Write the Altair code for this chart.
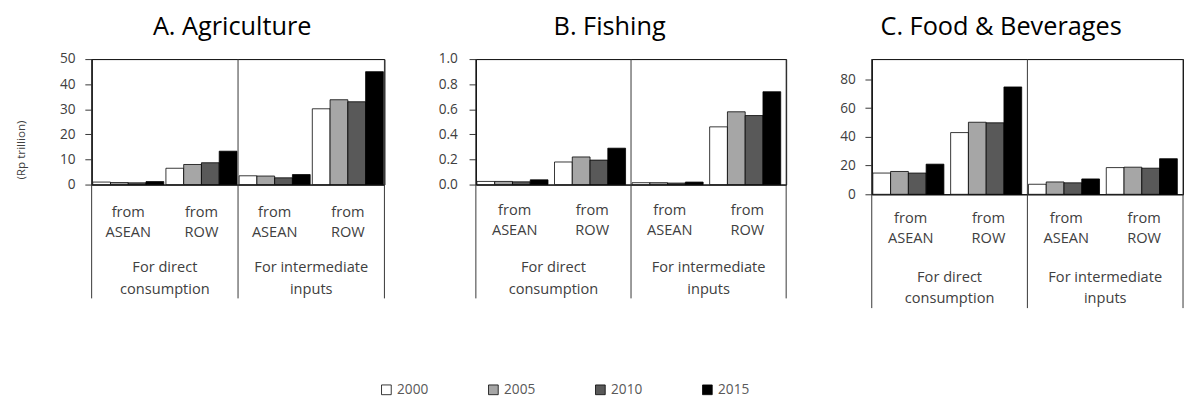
import altair as alt
import pandas as pd

FONT = "Open Sans"
TXT = "#404040"

years = ["2000", "2005", "2010", "2015"]
subgroups = ["d_ASEAN", "d_ROW", "i_ASEAN", "i_ROW"]
sub_labels = ["from\nASEAN", "from\nROW", "from\nASEAN", "from\nROW"]
group_anchor = ["d_ROW", "i_ROW"]
group_labels = ["For direct\nconsumption", "For intermediate\ninputs"]
year_fills = ["#ffffff", "#a6a6a6", "#595959", "#000000"]

# A. Agriculture (Rp trillion)
agri_d_asean = [1.0, 0.8, 0.7, 1.2]
agri_d_row = [6.5, 8.0, 8.7, 13.3]
agri_i_asean = [3.5, 3.4, 2.7, 4.0]
agri_i_row = [30.2, 33.8, 33.0, 45.0]

# B. Fishing
fish_d_asean = [0.025, 0.025, 0.022, 0.038]
fish_d_row = [0.18, 0.22, 0.195, 0.29]
fish_i_asean = [0.015, 0.015, 0.012, 0.02]
fish_i_row = [0.46, 0.58, 0.55, 0.74]

# C. Food & Beverages
food_d_asean = [14.8, 15.9, 14.8, 21.0]
food_d_row = [43.0, 50.2, 49.8, 74.8]
food_i_asean = [7.0, 8.6, 8.0, 10.7]
food_i_row = [18.6, 18.9, 18.2, 24.8]


def make_df(series):
    rows = []
    for sub, vals in zip(subgroups, series):
        for y, v in zip(years, vals):
            rows.append({"sub": sub, "year": y, "value": v})
    return pd.DataFrame(rows)


sub_df = pd.DataFrame({"sub": subgroups, "label": sub_labels})
grp_df = pd.DataFrame({"sub": group_anchor, "label": group_labels})
rule_left_df = pd.DataFrame({"sub": ["d_ASEAN", "i_ASEAN"]})
rule_right_df = pd.DataFrame({"sub": ["i_ROW"]})

xscale = alt.Scale(domain=subgroups, paddingInner=0, paddingOuter=0)


def panel(df, title, domain, ticks, fmt, width, height, ytitle, title_offset,
          title_dx, label_pad, sub_dy):
    yaxis_kw = dict(values=ticks, format=fmt, grid=False, tickSize=7,
                    labelPadding=label_pad, labelFont=FONT, labelFontSize=14,
                    labelColor=TXT, domainColor="black", tickColor="#333333")
    if ytitle:
        yaxis = alt.Axis(title="(Rp trillion)", titleFont=FONT, titleFontSize=12,
                         titleFontWeight="normal", titleColor=TXT,
                         titleX=-66, titleY=93, titleAngle=-90,
                         titleBaseline="bottom", **yaxis_kw)
    else:
        yaxis = alt.Axis(title=None, **yaxis_kw)

    bars = alt.Chart(df).mark_bar(stroke="black", strokeWidth=0.8).encode(
        x=alt.X("sub:N", sort=subgroups, scale=xscale,
                axis=alt.Axis(labels=False, ticks=False, title=None,
                              domainColor="black")),
        xOffset=alt.XOffset("year:N", sort=years,
                            scale=alt.Scale(domain=years, paddingInner=0,
                                            paddingOuter=0.06)),
        y=alt.Y("value:Q", scale=alt.Scale(domain=domain, nice=False),
                axis=yaxis),
        fill=alt.Fill("year:N", scale=alt.Scale(domain=years, range=year_fills),
                      legend=alt.Legend(title=None, orient="none",
                                        direction="horizontal",
                                        legendX=296, legendY=333,
                                        symbolType="square", symbolSize=100,
                                        symbolStrokeColor="black",
                                        symbolStrokeWidth=0.8,
                                        labelFont=FONT, labelFontSize=14,
                                        labelColor="#595959",
                                        columnPadding=59, labelOffset=4)),
    )

    sub_text = alt.Chart(sub_df).mark_text(
        lineBreak="\n", baseline="top", fontSize=15, lineHeight=21,
        font=FONT, color=TXT
    ).encode(
        x=alt.X("sub:N", sort=subgroups, scale=xscale),
        y=alt.value(height + sub_dy),
        text="label:N",
    )

    grp_text = alt.Chart(grp_df).mark_text(
        lineBreak="\n", baseline="top", fontSize=15, lineHeight=22,
        font=FONT, color=TXT
    ).encode(
        x=alt.X("sub:N", sort=subgroups, scale=xscale, bandPosition=0),
        y=alt.value(height + 78),
        text="label:N",
    )

    rules_l = alt.Chart(rule_left_df).mark_rule(color="#333333", strokeWidth=1).encode(
        x=alt.X("sub:N", sort=subgroups, scale=xscale, bandPosition=0),
        y=alt.value(0),
        y2=alt.value(height + 117),
    )
    rules_r = alt.Chart(rule_right_df).mark_rule(color="#333333", strokeWidth=1).encode(
        x=alt.X("sub:N", sort=subgroups, scale=xscale, bandPosition=1),
        y=alt.value(0),
        y2=alt.value(height + 117),
    )

    return alt.layer(bars, sub_text, grp_text, rules_l, rules_r).properties(
        width=width, height=height,
        title=alt.Title(title, font=FONT, fontSize=26, fontWeight="normal",
                        color="black", offset=title_offset, anchor="middle",
                        dx=title_dx),
    )


pA = panel(make_df([agri_d_asean, agri_d_row, agri_i_asean, agri_i_row]),
           "A. Agriculture", [0, 50], [0, 10, 20, 30, 40, 50], "d",
           301, 129, True, 13, -6, 10, 21)
pB = panel(make_df([fish_d_asean, fish_d_row, fish_i_asean, fish_i_row]),
           "B. Fishing", [0, 1.0], [0, 0.2, 0.4, 0.6, 0.8, 1.0], ".1f",
           319, 129, False, 13, -22, 12, 19)
pC = panel(make_df([food_d_asean, food_d_row, food_i_asean, food_i_row]),
           "C. Food & Beverages", [0, 94.2], [0, 20, 40, 60, 80], "d",
           320, 139, False, 19, -27, 10, 17)

chart = alt.hconcat(pA, pB, pC, spacing=53).resolve_scale(
    fill="shared"
).properties(
    padding={"left": 6, "top": 0, "right": 0, "bottom": 0}
).configure_view(
    stroke="black", strokeWidth=1
).configure_axis(
    domainWidth=1
)

chart.save("out.html", embed_options={"renderer": "svg", "actions": False})
